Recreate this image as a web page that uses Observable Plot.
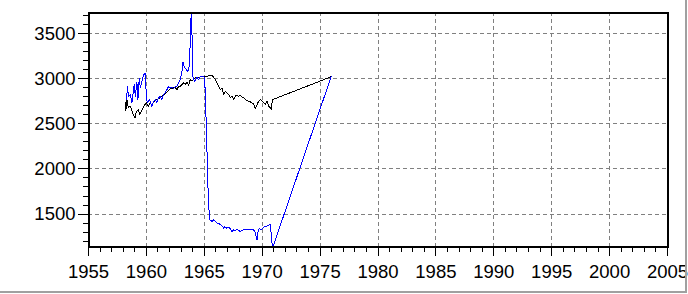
<!DOCTYPE html>
<html>
<head>
<meta charset="utf-8">
<script src="https://cdn.jsdelivr.net/npm/d3@7"></script>
<script src="https://cdn.jsdelivr.net/npm/@observablehq/plot@0.6"></script>
<style>
  html, body { margin: 0; padding: 0; background: #ffffff; }
  #wrap { position: relative; width: 688px; height: 294px; overflow: hidden; }
  #border { position: absolute; left: 0; top: 0; width: 685px; height: 291px;
            border-right: 2px solid #a0a0a0; border-bottom: 2px solid #a0a0a0; pointer-events: none; }
</style>
</head>
<body>
<div id="wrap"><div id="border"></div></div>
<script>
// ---- data ----
const blackYears = [1958.17,1958.23,1958.32,1958.43,1958.58,1958.72,1958.86,1959.01,1959.15,1959.30,1959.44,1959.58,1959.73,1959.87,1960.01,1960.16,1960.31,1960.45,1960.77,1961.20,1961.63,1962.06,1962.49,1962.64,1962.78,1962.93,1963.07,1963.21,1963.36,1963.50,1963.64,1963.79,1963.94,1964.08,1964.22,1964.37,1964.51,1964.65,1964.80,1964.94,1965.09,1965.23,1965.52,1965.67,1965.80,1965.95,1966.10,1966.24,1966.38,1966.53,1966.67,1966.82,1966.96,1967.10,1967.25,1967.39,1967.53,1967.68,1967.83,1967.96,1968.11,1968.26,1968.40,1968.54,1968.69,1968.83,1968.98,1969.12,1969.26,1969.41,1969.56,1969.69,1969.84,1969.99,1970.13,1970.27,1970.42,1970.56,1970.70,1970.79,1970.85,1970.92,1975.95];
const blackValues = [2737,2648,2770,2681,2696,2659,2603,2567,2640,2659,2603,2640,2678,2714,2733,2696,2733,2714,2759,2792,2837,2892,2903,2881,2914,2918,2937,2956,2937,2962,2926,2992,2973,2992,3011,3000,3011,3022,3029,3029,3029,3029,3037,3040,3018,2992,2956,2918,2881,2900,2826,2862,2844,2826,2789,2807,2770,2807,2818,2807,2818,2796,2789,2770,2759,2751,2744,2733,2722,2670,2714,2751,2770,2751,2733,2714,2751,2696,2678,2659,2733,2770,3022];

const blueYears = [1958.30,1958.35,1958.46,1958.60,1958.75,1958.95,1959.04,1959.18,1959.27,1959.38,1959.47,1959.62,1959.75,1959.93,1959.99,1960.10,1960.27,1960.48,1960.62,1960.77,1960.91,1961.05,1961.20,1961.34,1961.48,1961.63,1961.78,1961.91,1962.06,1962.21,1962.35,1962.49,1962.64,1962.78,1962.93,1963.07,1963.16,1963.27,1963.44,1963.59,1963.70,1963.79,1963.87,1963.96,1964.02,1964.14,1964.25,1964.37,1964.51,1964.65,1964.80,1964.94,1965.03,1965.13,1965.23,1965.35,1965.46,1965.67,1965.80,1965.95,1966.10,1966.24,1966.38,1966.53,1966.67,1966.75,1966.90,1967.01,1967.19,1967.31,1967.39,1967.53,1967.68,1967.83,1967.96,1968.11,1968.26,1968.40,1968.54,1968.69,1968.83,1968.98,1969.12,1969.26,1969.41,1969.56,1969.64,1969.75,1969.90,1970.04,1970.19,1970.33,1970.47,1970.62,1970.70,1970.77,1970.85,1970.94,1975.95];
const blueValues = [2770,2914,2803,2826,2737,2937,2803,2959,2770,3003,2903,2970,3048,3059,2770,2737,2770,2692,2748,2770,2737,2792,2803,2770,2826,2848,2881,2914,2903,2903,2892,2914,2914,2959,2992,3081,3181,3126,3103,3081,3137,3414,3735,3403,3026,2970,2992,3014,2992,3026,3026,3026,3014,2659,2214,1659,1437,1418,1437,1418,1400,1400,1381,1370,1344,1362,1344,1356,1344,1326,1307,1326,1318,1326,1318,1307,1318,1326,1326,1326,1333,1333,1333,1326,1289,1214,1307,1344,1326,1344,1362,1356,1370,1381,1381,1289,1178,1140,3022];

const xMajorTicks = [1955,1960,1965,1970,1975,1980,1985,1990,1995,2000,2005];
const yMajorTicks = [1500,2000,2500,3000,3500];
const xMinorTicks = d3.range(1955, 2006, 1);
const yMinorTicks = d3.range(1200, 3800, 100);
const xDomain = [1955, 2005];
const yDomain = [1140, 3735];

const black = blackYears.map((x, i) => ({x, y: blackValues[i]}));
const blue = blueYears.map((x, i) => ({x, y: blueValues[i]}));

const fmt = d => String(d);
const chart = Plot.plot({
  width: 688,
  height: 294,
  marginLeft: 88,
  marginRight: 21,
  marginTop: 12,
  marginBottom: 48,
  style: {fontFamily: "'Liberation Sans', Arial, sans-serif", fontSize: "18.5px", color: "black", background: "transparent", overflow: "visible"},
  x: {domain: xDomain, label: null},
  y: {domain: yDomain, label: null},
  marks: [
    Plot.gridX(xMajorTicks, {stroke: "#808080", strokeOpacity: 1, strokeDasharray: "4,3", shapeRendering: "crispEdges"}),
    Plot.gridY(yMajorTicks, {stroke: "#808080", strokeOpacity: 1, strokeDasharray: "4,3", shapeRendering: "crispEdges"}),
    Plot.lineY(black, {x: "x", y: "y", stroke: "#000000", strokeWidth: 1, shapeRendering: "crispEdges"}),
    Plot.lineY(blue, {x: "x", y: "y", stroke: "#0000ff", strokeWidth: 1, shapeRendering: "crispEdges"}),
    Plot.axisX(xMinorTicks, {tickSize: 6, tickFormat: () => "", stroke: "black", shapeRendering: "crispEdges"}),
    Plot.axisX(xMajorTicks, {tickSize: 10, tickPadding: 8.5, tickFormat: fmt, stroke: "black", fill: "black", shapeRendering: "crispEdges"}),
    Plot.axisY(yMinorTicks, {tickSize: 5, tickFormat: () => "", stroke: "black", shapeRendering: "crispEdges"}),
    Plot.axisY(yMajorTicks, {tickSize: 10, tickPadding: 3, tickFormat: fmt, stroke: "black", fill: "black", shapeRendering: "crispEdges"}),
    Plot.frame({stroke: "black", strokeWidth: 2, shapeRendering: "crispEdges"})
  ]
});
document.getElementById("wrap").insertBefore(chart, document.getElementById("border"));
</script>
</body>
</html>
